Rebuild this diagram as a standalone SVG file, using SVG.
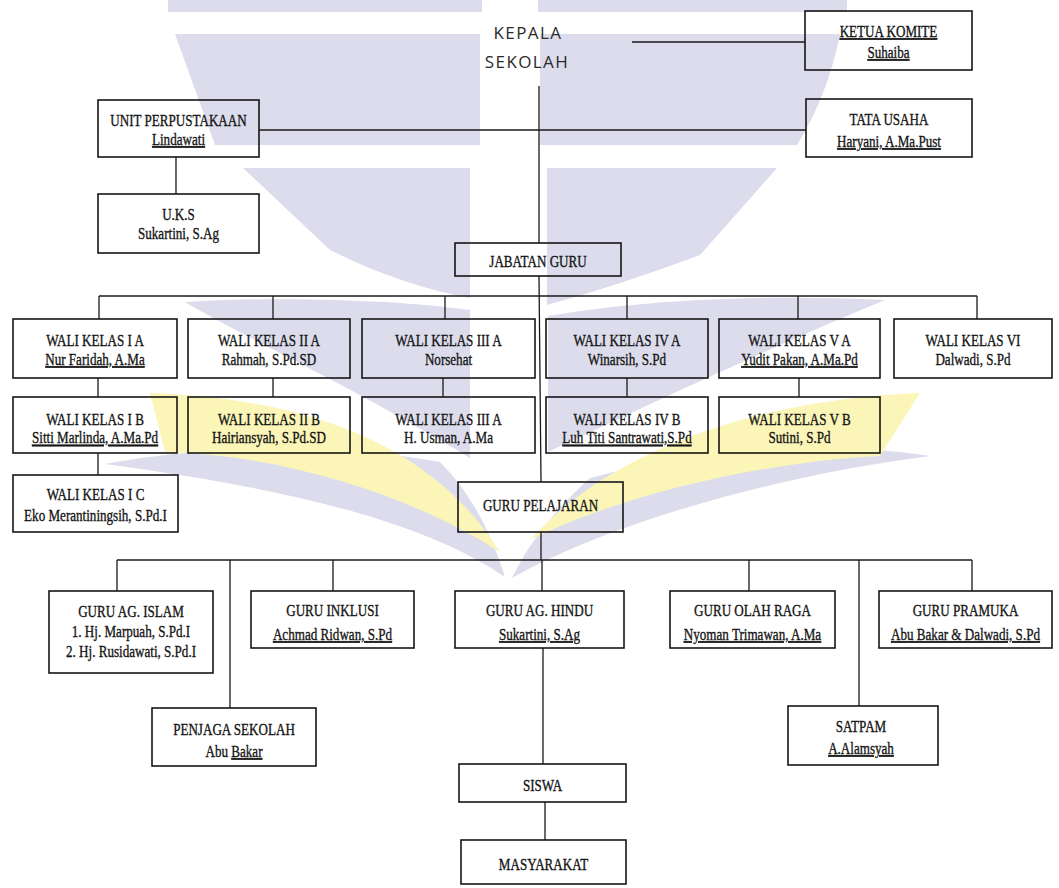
<svg xmlns="http://www.w3.org/2000/svg" width="1059" height="888" viewBox="0 0 1059 888">
<style>
.bg{fill:#ffffff}
.wl{fill:#dcdcec}
.wy{fill:#fbf5b8}
.box{fill:none;stroke:#161616;stroke-width:1.6}
.ln{fill:none;stroke:#1a1a1a;stroke-width:1.3}
.t{font-family:"Liberation Serif","Times New Roman",serif;font-size:17px;fill:#151515;stroke:#151515;stroke-width:0.35;text-anchor:middle}
.u{text-decoration:underline}
.head{font-family:"Open Sans","DejaVu Sans",sans-serif;font-size:17px;fill:#2a2a2a;text-anchor:middle;letter-spacing:1.4px}
</style>
<rect class="bg" x="0" y="0" width="1059" height="888"/>

<!-- faint emblem in the background -->
<g id="emblem">
  <rect class="wl" x="168" y="0" width="314" height="12"/>
  <rect class="wl" x="538" y="0" width="309" height="12"/>
  <path class="wl" d="M175,34 H480 V145 H215 Z"/>
  <path class="wl" d="M540,34 H840 Q828,95 797,145 H540 Z"/>
  <path class="wl" d="M243,168 H470 V298 Q400,285 330,250 Z"/>
  <path class="wl" d="M547,168 H777 L700,255 Q620,285 547,305 Z"/>
  <path class="wl" d="M470,310 C400,300 280,296 185,302 C240,335 350,385 470,458 Z"/>
  <path class="wl" d="M548,316 C640,300 760,294 885,300 C800,335 690,385 548,452 Z"/>
  <path class="wl" d="M505,577 C430,525 300,490 105,464 C200,446 330,442 440,462 C470,492 490,530 505,577 Z"/>
  <path class="wl" d="M512,578 C600,528 760,478 930,456 C830,440 700,448 590,478 C560,505 530,540 512,578 Z"/>
  <path class="wy" d="M150,393 C300,398 430,440 500,552 C420,500 290,455 165,452 Z"/>
  <path class="wy" d="M920,393 C780,398 620,440 530,540 C620,495 760,462 880,456 Z"/>
</g>

<g id="connectors">
  <line class="ln" x1="539" y1="86" x2="539" y2="243"/>
  <line class="ln" x1="539" y1="276" x2="541" y2="482"/>
  <line class="ln" x1="541" y1="532" x2="541" y2="560"/>
  <line class="ln" x1="632" y1="42" x2="805" y2="42"/>
  <line class="ln" x1="259" y1="130" x2="806" y2="130"/>
  <line class="ln" x1="176" y1="157" x2="176" y2="194"/>
  <line class="ln" x1="99" y1="296" x2="977" y2="296"/>
  <line class="ln" x1="99" y1="296" x2="99" y2="319"/>
  <line class="ln" x1="273" y1="296" x2="273" y2="319"/>
  <line class="ln" x1="445" y1="296" x2="445" y2="319"/>
  <line class="ln" x1="627" y1="296" x2="627" y2="319"/>
  <line class="ln" x1="798" y1="296" x2="798" y2="319"/>
  <line class="ln" x1="977" y1="296" x2="977" y2="319"/>
  <line class="ln" x1="98" y1="378" x2="98" y2="397"/>
  <line class="ln" x1="273" y1="378" x2="273" y2="397"/>
  <line class="ln" x1="443" y1="378" x2="443" y2="397"/>
  <line class="ln" x1="627" y1="378" x2="627" y2="397"/>
  <line class="ln" x1="799" y1="378" x2="799" y2="397"/>
  <line class="ln" x1="98" y1="453" x2="98" y2="475"/>
  <line class="ln" x1="117" y1="560" x2="972" y2="560"/>
  <line class="ln" x1="117" y1="560" x2="117" y2="591"/>
  <line class="ln" x1="230" y1="560" x2="230" y2="708"/>
  <line class="ln" x1="333" y1="560" x2="333" y2="591"/>
  <line class="ln" x1="542" y1="560" x2="542" y2="591"/>
  <line class="ln" x1="749" y1="560" x2="749" y2="591"/>
  <line class="ln" x1="859" y1="560" x2="859" y2="706"/>
  <line class="ln" x1="972" y1="560" x2="972" y2="591"/>
  <line class="ln" x1="543" y1="648" x2="543" y2="764"/>
  <line class="ln" x1="545" y1="802" x2="545" y2="840"/>
</g>

<g id="kepala">
  <text class="head" x="528" y="39">KEPALA</text>
  <text class="head" x="527" y="68">SEKOLAH</text>
</g>

<g id="komite">
  <rect class="box" x="805" y="11" width="167" height="59"/>
  <g transform="translate(888.5 0) scale(0.77 1)"><text class="t u" y="37">KETUA KOMITE</text><text class="t u" y="58">Suhaiba</text></g>
</g>
<g id="tata-usaha">
  <rect class="box" x="806" y="99" width="166" height="58"/>
  <g transform="translate(889 0) scale(0.77 1)"><text class="t" y="125">TATA USAHA</text><text class="t u" y="147">Haryani, A.Ma.Pust</text></g>
</g>
<g id="perpustakaan">
  <rect class="box" x="98" y="100" width="161" height="57"/>
  <g transform="translate(178.5 0) scale(0.77 1)"><text class="t" y="126">UNIT PERPUSTAKAAN</text><text class="t u" y="145">Lindawati</text></g>
</g>
<g id="uks">
  <rect class="box" x="98" y="194" width="161" height="59"/>
  <g transform="translate(178.5 0) scale(0.77 1)"><text class="t" y="220">U.K.S</text><text class="t" y="239">Sukartini, S.Ag</text></g>
</g>
<g id="jabatan-guru">
  <rect class="box" x="455" y="243" width="166" height="33"/>
  <g transform="translate(538 0) scale(0.77 1)"><text class="t" y="267">JABATAN  GURU</text></g>
</g>

<g id="wali-1a">
  <rect class="box" x="13" y="319" width="164" height="59"/>
  <g transform="translate(95 0) scale(0.77 1)"><text class="t" y="346">WALI KELAS I A</text><text class="t u" y="365">Nur Faridah, A.Ma</text></g>
</g>
<g id="wali-2a">
  <rect class="box" x="188" y="319" width="162" height="59"/>
  <g transform="translate(269 0) scale(0.77 1)"><text class="t" y="346">WALI KELAS II A</text><text class="t" y="365">Rahmah, S.Pd.SD</text></g>
</g>
<g id="wali-3a">
  <rect class="box" x="362" y="319" width="173" height="59"/>
  <g transform="translate(448.5 0) scale(0.77 1)"><text class="t" y="346">WALI KELAS III A</text><text class="t" y="365">Norsehat</text></g>
</g>
<g id="wali-4a">
  <rect class="box" x="546" y="319" width="162" height="59"/>
  <g transform="translate(627 0) scale(0.77 1)"><text class="t" y="346">WALI KELAS IV A</text><text class="t" y="365">Winarsih, S.Pd</text></g>
</g>
<g id="wali-5a">
  <rect class="box" x="719" y="319" width="161" height="59"/>
  <g transform="translate(799.5 0) scale(0.77 1)"><text class="t" y="346">WALI KELAS V A</text><text class="t u" y="365">Yudit Pakan, A.Ma.Pd</text></g>
</g>
<g id="wali-6">
  <rect class="box" x="894" y="319" width="158" height="59"/>
  <g transform="translate(973 0) scale(0.77 1)"><text class="t" y="346">WALI KELAS VI</text><text class="t" y="365">Dalwadi, S.Pd</text></g>
</g>

<g id="wali-1b">
  <rect class="box" x="13" y="397" width="164" height="56"/>
  <g transform="translate(95 0) scale(0.77 1)"><text class="t" y="425">WALI KELAS I B</text><text class="t u" y="443.5">Sitti Marlinda, A.Ma.Pd</text></g>
</g>
<g id="wali-2b">
  <rect class="box" x="188" y="397" width="162" height="56"/>
  <g transform="translate(269 0) scale(0.77 1)"><text class="t" y="425">WALI KELAS II B</text><text class="t" y="443.5">Hairiansyah, S.Pd.SD</text></g>
</g>
<g id="wali-3a-2">
  <rect class="box" x="362" y="397" width="173" height="56"/>
  <g transform="translate(448.5 0) scale(0.77 1)"><text class="t" y="425">WALI KELAS III A</text><text class="t" y="443.5">H. Usman, A.Ma</text></g>
</g>
<g id="wali-4b">
  <rect class="box" x="546" y="397" width="162" height="56"/>
  <g transform="translate(627 0) scale(0.77 1)"><text class="t" y="425">WALI KELAS IV B</text><text class="t u" y="443.5">Luh Titi Santrawati,S.Pd</text></g>
</g>
<g id="wali-5b">
  <rect class="box" x="719" y="397" width="161" height="56"/>
  <g transform="translate(799.5 0) scale(0.77 1)"><text class="t" y="425">WALI KELAS V B</text><text class="t" y="443.5">Sutini, S.Pd</text></g>
</g>
<g id="wali-1c">
  <rect class="box" x="13" y="475" width="165" height="57"/>
  <g transform="translate(95.5 0) scale(0.77 1)"><text class="t" y="500">WALI KELAS I C</text><text class="t" y="521">Eko Merantiningsih, S.Pd.I</text></g>
</g>

<g id="guru-pelajaran">
  <rect class="box" x="458" y="482" width="165" height="50"/>
  <g transform="translate(540.5 0) scale(0.77 1)"><text class="t" y="511">GURU PELAJARAN</text></g>
</g>

<g id="guru-islam">
  <rect class="box" x="49" y="591" width="164" height="82"/>
  <g transform="translate(131 0) scale(0.77 1)"><text class="t" y="617">GURU AG. ISLAM</text><text class="t" y="637">1. Hj. Marpuah, S.Pd.I</text><text class="t" y="657">2. Hj. Rusidawati, S.Pd.I</text></g>
</g>
<g id="guru-inklusi">
  <rect class="box" x="251" y="591" width="163" height="57"/>
  <g transform="translate(332.5 0) scale(0.77 1)"><text class="t" y="616">GURU INKLUSI</text><text class="t u" y="640">Achmad Ridwan, S.Pd</text></g>
</g>
<g id="guru-hindu">
  <rect class="box" x="455" y="591" width="169" height="57"/>
  <g transform="translate(539.5 0) scale(0.77 1)"><text class="t" y="616">GURU AG. HINDU</text><text class="t u" y="640">Sukartini, S.Ag</text></g>
</g>
<g id="guru-olahraga">
  <rect class="box" x="670" y="591" width="165" height="57"/>
  <g transform="translate(752.5 0) scale(0.77 1)"><text class="t" y="616">GURU OLAH RAGA</text><text class="t u" y="640">Nyoman Trimawan, A.Ma</text></g>
</g>
<g id="guru-pramuka">
  <rect class="box" x="879" y="591" width="173" height="57"/>
  <g transform="translate(965.5 0) scale(0.77 1)"><text class="t" y="616">GURU PRAMUKA</text><text class="t u" y="640">Abu Bakar &amp; Dalwadi, S.Pd</text></g>
</g>

<g id="penjaga">
  <rect class="box" x="152" y="708" width="164" height="58"/>
  <g transform="translate(234 0) scale(0.77 1)"><text class="t" y="735">PENJAGA SEKOLAH</text><text class="t" y="757">Abu <tspan class="u">Bakar</tspan></text></g>
</g>
<g id="satpam">
  <rect class="box" x="788" y="706" width="150" height="59"/>
  <g transform="translate(861 0) scale(0.77 1)"><text class="t" y="732">SATPAM</text><text class="t u" y="754">A.Alamsyah</text></g>
</g>
<g id="siswa">
  <rect class="box" x="459" y="764" width="167" height="38"/>
  <g transform="translate(542.5 0) scale(0.77 1)"><text class="t" y="791">SISWA</text></g>
</g>
<g id="masyarakat">
  <rect class="box" x="461" y="840" width="165" height="44"/>
  <g transform="translate(543.5 0) scale(0.77 1)"><text class="t" y="870">MASYARAKAT</text></g>
</g>
</svg>
